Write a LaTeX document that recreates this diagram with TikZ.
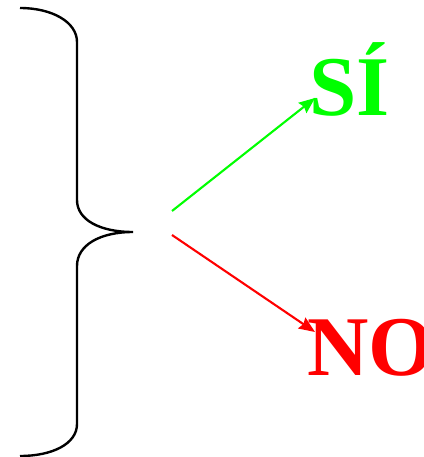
\documentclass[tikz,border=0pt]{standalone}
\usepackage{fontspec}
\setmainfont{Liberation Serif}
\usetikzlibrary{arrows.meta}
\definecolor{sigreen}{RGB}{0,255,0}
\definecolor{nored}{RGB}{255,0,0}
\tikzset{
  bracestyle/.style={draw=black, line width=2.4pt},
  arr/.style={line width=2.1pt, -{Stealth[length=16pt,width=13pt,inset=2pt]}},
  answer/.style={inner sep=0pt, font=\bfseries\fontsize{85}{85}\selectfont}
}
\begin{document}
\begin{tikzpicture}[x=1pt,y=-1pt]
\useasboundingbox (0,0) rectangle (423,457);
\draw[bracestyle] (20,8) .. controls (52,8) and (77,22) .. (77,42)
  -- (77,200) .. controls (77,220) and (100,232) .. (133,232)
  .. controls (100,232) and (77,245) .. (77,266)
  -- (77,424) .. controls (77,444) and (52,456) .. (20,456);
\coordinate (tip) at (133,232);
\node[answer, text=sigreen, anchor=base west] (si) at (309,116) {SÍ};
\node[answer, text=nored, anchor=base west] (no) at (307,375) {NO};
\coordinate (sistart) at (172,211);
\coordinate (nostart) at (172,235);
\coordinate (siend) at (315,98);
\coordinate (noend) at (315,332);
\draw[arr, sigreen] (sistart) -- (siend);
\draw[arr, nored] (nostart) -- (noend);
\end{tikzpicture}
\end{document}
